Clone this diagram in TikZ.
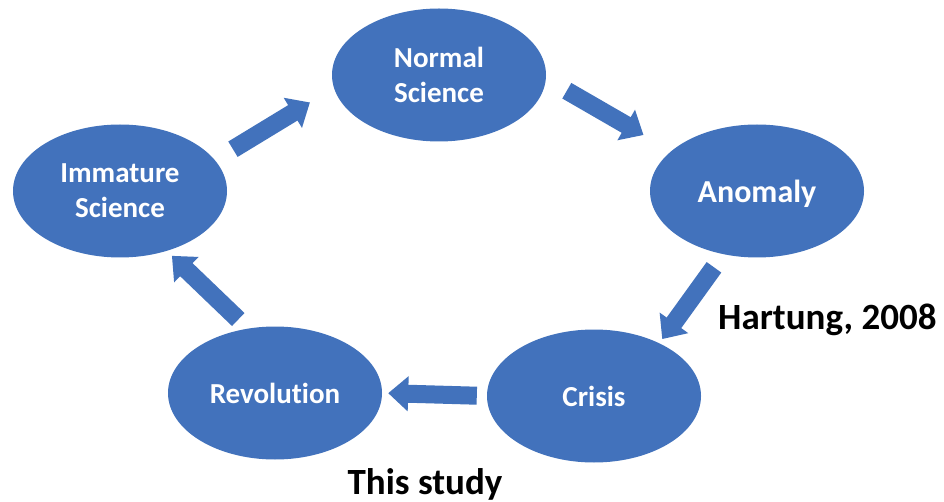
\documentclass[tikz,border=0pt]{standalone}
\usepackage{fontspec}
\setmainfont{Carlito}[Ligatures=NoCommon]
\usetikzlibrary{shapes.geometric,arrows.meta}
\definecolor{stageblue}{RGB}{66,114,188}
\tikzset{stage/.style={ellipse, fill=stageblue, text=white, inner sep=0pt,
           minimum width=214pt, minimum height=133pt, align=center,
           font=\bfseries\fontsize{29}{35}\selectfont},
     stage arrow/.style={draw=stageblue, line width=18pt,
           -{Triangle[width=34pt,length=20pt]}},
     cite label/.style={inner sep=0pt, font=\bfseries\fontsize{37}{44}\selectfont}
     }
\def\Stage#1#2#3{%
 \node[stage] (#1) at (#2) {#3};
}

\begin{document}
\begin{tikzpicture}[x=1pt, y=-1pt]
\path[use as bounding box, fill=white] (0,0) rectangle (944,502);
\Stage{imm}{120,191}{Immature\\Science}
\Stage{nor}{439,75}{Normal\\Science}
\node[stage, font=\bfseries\fontsize{32}{38}\selectfont, text depth=0pt] (ano) at (757,191) {Anomaly};
\Stage{cri}{594,396}{Crisis}
\Stage{rev}{275,393}{Revolution}
% cycle
\draw[stage arrow, shorten <=21pt, shorten >=28pt] (imm.18) -- (nor.187);
\draw[stage arrow, shorten <=24pt, shorten >=32pt] (nor.-2) -- (ano.155);
\draw[stage arrow, shorten <=16pt, shorten >=5pt] (ano.242) -- (cri.39);
\draw[stage arrow, shorten <=10pt, shorten >=6pt] (cri.west) -- (rev.east);
\draw[stage arrow, shorten <=13pt, shorten >=7pt] (rev.113) -- (imm.308);
% sources
\node[cite label, anchor=base west] (hart) at (718,329) {Hartung, 2008};
\node[cite label, anchor=base] (study) at (425,494) {This study};
\end{tikzpicture}
\end{document}
